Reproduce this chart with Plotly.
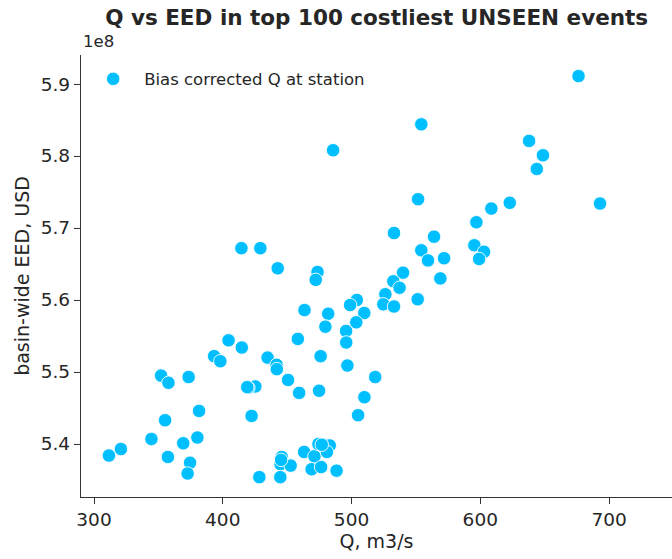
import plotly.graph_objects as go

# Peak discharge at the station (m3/s) for the costliest UNSEEN events
q_station = [
    676.3, 554.2, 485.7, 637.9, 648.7, 643.9, 693.0, 622.9, 608.6, 551.7,
    597.0, 533.0, 564.1, 595.4, 602.9, 599.1, 554.2, 559.4, 571.9, 569.0,
    414.5, 429.2, 442.7, 473.6, 472.2, 540.0, 532.5, 537.3, 526.3, 524.7,
    533.0, 551.4, 463.5, 481.9, 504.1, 498.9, 509.9, 503.7, 479.7, 495.8,
    495.9, 458.3, 404.5, 414.8, 393.3, 398.1, 434.8, 441.8, 442.0, 476.0,
    496.8, 518.4, 352.1, 357.8, 373.5, 450.7, 425.3, 419.9, 459.3, 474.8,
    510.0, 505.1, 381.6, 422.4, 355.2, 344.6, 380.3, 369.3, 320.9, 311.6,
    357.4, 374.6, 372.7, 428.4, 445.8, 444.9, 452.7, 444.7, 463.2, 471.2,
    474.3, 478.9, 483.1, 480.9, 469.0, 476.4, 488.4, 445.3, 419.0, 476.9,
]

# Basin-wide expected economic damage (USD)
eed_usd = [
    5.911e8, 5.844e8, 5.808e8, 5.821e8, 5.801e8, 5.782e8, 5.734e8, 5.735e8, 5.727e8, 5.740e8,
    5.708e8, 5.693e8, 5.688e8, 5.676e8, 5.667e8, 5.657e8, 5.669e8, 5.655e8, 5.658e8, 5.630e8,
    5.672e8, 5.672e8, 5.644e8, 5.639e8, 5.628e8, 5.638e8, 5.626e8, 5.617e8, 5.608e8, 5.594e8,
    5.591e8, 5.601e8, 5.586e8, 5.581e8, 5.600e8, 5.593e8, 5.582e8, 5.569e8, 5.563e8, 5.557e8,
    5.541e8, 5.546e8, 5.544e8, 5.534e8, 5.522e8, 5.515e8, 5.520e8, 5.510e8, 5.504e8, 5.522e8,
    5.509e8, 5.493e8, 5.495e8, 5.485e8, 5.493e8, 5.489e8, 5.480e8, 5.478e8, 5.471e8, 5.474e8,
    5.465e8, 5.440e8, 5.446e8, 5.439e8, 5.433e8, 5.407e8, 5.409e8, 5.401e8, 5.393e8, 5.384e8,
    5.382e8, 5.374e8, 5.359e8, 5.354e8, 5.382e8, 5.372e8, 5.370e8, 5.354e8, 5.389e8, 5.383e8,
    5.400e8, 5.399e8, 5.398e8, 5.389e8, 5.365e8, 5.368e8, 5.363e8, 5.378e8, 5.479e8, 5.399e8,
]

x_ticks = [300, 400, 500, 600, 700]
y_ticks = [5.4, 5.5, 5.6, 5.7, 5.8, 5.9]
y_scale = 1e8

series_name = "Bias corrected Q at station"
title_text = "Q vs EED in top 100 costliest UNSEEN events"

FONT = "DejaVu Sans"
INK = "#262626"

fig = go.Figure()
fig.add_trace(go.Scatter(
    x=q_station,
    y=[v / y_scale for v in eed_usd],
    mode="markers",
    name=series_name,
    marker=dict(color="#00BFFF", size=13.5, line=dict(color="white", width=0.9)),
    showlegend=True,
))

axis_common = dict(
    showgrid=False, zeroline=False, showline=True, linecolor="#333333", linewidth=1.3,
    ticks="outside", ticklen=6, tickwidth=1.3, tickcolor="#333333",
    tickfont=dict(family=FONT, size=18.5, color=INK),
    mirror=False,
)

fig.update_layout(
    width=672, height=559,
    margin=dict(l=81, r=0, t=55, b=62),
    paper_bgcolor="white", plot_bgcolor="white",
    title=dict(text="<b>" + title_text + "</b>", x=0.5605, xanchor="center",
               y=0.969, yanchor="middle",
               font=dict(family=FONT, size=21.5, color=INK)),
    xaxis=dict(range=[289.9, 748.9], tickvals=x_ticks, ticktext=[str(t) for t in x_ticks],
               title=dict(text="Q, m3/s", font=dict(family=FONT, size=19, color=INK), standoff=4),
               **axis_common),
    yaxis=dict(range=[5.3264, 5.9403], tickvals=y_ticks, ticktext=[f"{t:.1f}" for t in y_ticks],
               title=dict(text="basin-wide EED, USD", font=dict(family=FONT, size=19, color=INK), standoff=6),
               **axis_common),
    legend=dict(x=0.002, y=0.985, xanchor="left", yanchor="top", bgcolor="rgba(0,0,0,0)",
                font=dict(family=FONT, size=16.5, color=INK), itemwidth=52),
    annotations=[dict(text="1e8", xref="paper", yref="paper", x=0.0, y=1.0,
                      xanchor="left", yanchor="bottom", showarrow=False, yshift=2,
                      font=dict(family=FONT, size=16.5, color=INK))],
)

fig.write_html("out.html")
